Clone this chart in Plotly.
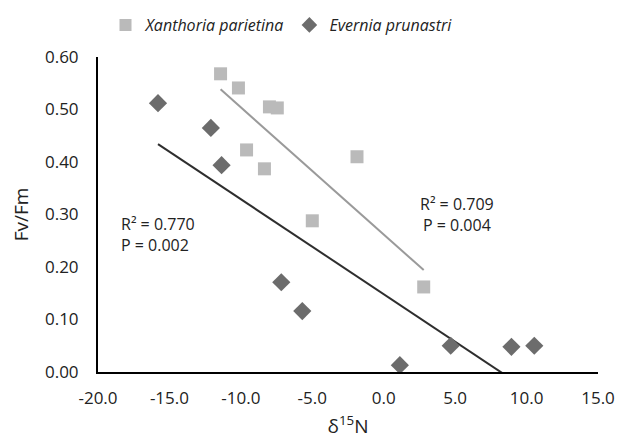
import numpy as np
import plotly.graph_objects as go

# Data
xan_x = [-11.42, -10.17, -8.0, -7.45, -9.6, -8.35, -1.87, -5.0, 2.8]
xan_y = [0.568, 0.541, 0.505, 0.503, 0.423, 0.387, 0.410, 0.288, 0.162]
eve_x = [-15.8, -12.1, -11.35, -7.17, -5.7, 1.13, 4.69, 8.94, 10.54]
eve_y = [0.512, 0.465, 0.394, 0.171, 0.116, 0.013, 0.050, 0.048, 0.050]

x_tickvals = [-20, -15, -10, -5, 0, 5, 10, 15]
x_ticktext = ["-20.0", "-15.0", "-10.0", "-5.0", "0.0", "5.0", "10.0", "15.0"]
y_tickvals = [0.0, 0.1, 0.2, 0.3, 0.4, 0.5, 0.6]
y_ticktext = ["0.00", "0.10", "0.20", "0.30", "0.40", "0.50", "0.60"]

FONT = "Open Sans"

def fit_line(xs, ys):
    m, b = np.polyfit(xs, ys, 1)
    xx = np.array([min(xs), max(xs)])
    return xx, m * xx + b

fig = go.Figure()

# trendlines
lx, ly = fit_line(xan_x, xan_y)
fig.add_trace(go.Scatter(x=lx, y=ly, mode="lines", line=dict(color="#9a9a9a", width=2),
                         showlegend=False, hoverinfo="skip"))
lx2, ly2 = fit_line(eve_x, eve_y)
fig.add_trace(go.Scatter(x=lx2, y=ly2, mode="lines", line=dict(color="#2e2e2e", width=2),
                         showlegend=False, hoverinfo="skip"))

fig.add_trace(go.Scatter(x=xan_x, y=xan_y, mode="markers", name="<i>Xanthoria parietina</i>",
                         marker=dict(symbol="square", size=13, color="#bababa")))
fig.add_trace(go.Scatter(x=eve_x, y=eve_y, mode="markers", name="<i>Evernia prunastri</i>",
                         marker=dict(symbol="diamond", size=14, color="#6c6c6c")))

fig.add_annotation(x=-18.5, y=0.262, xref="x", yref="y", text="R² = 0.770<br>P = 0.002",
                   showarrow=False, align="left", xanchor="left",
                   font=dict(family=FONT, size=16, color="#222"))
fig.add_annotation(x=5.1, y=0.30, xref="x", yref="y", text="R² = 0.709<br>P = 0.004",
                   showarrow=False, align="center", xanchor="center",
                   font=dict(family=FONT, size=16, color="#222"))

fig.update_layout(
    width=622, height=431,
    paper_bgcolor="white", plot_bgcolor="white",
    margin=dict(l=90, r=32, t=49, b=67, autoexpand=False),
    font=dict(family=FONT, size=16, color="#222"),
    legend=dict(orientation="h", x=0.367, xanchor="center",
                yref="container", y=1.0, yanchor="top",
                font=dict(family=FONT, size=16), itemsizing="constant", itemwidth=30,
                tracegroupgap=10),
    xaxis=dict(range=[-20, 15], tickvals=x_tickvals, ticktext=x_ticktext,
               showgrid=False, zeroline=False, showline=True, linecolor="#000", linewidth=2,
               ticks="", tickfont=dict(size=17), ticklabelstandoff=10,
               title=dict(text="δ<sup>15</sup>N", font=dict(size=19), standoff=16)),
    yaxis=dict(range=[0, 0.6], tickvals=y_tickvals, ticktext=y_ticktext,
               showgrid=False, zeroline=False, showline=True, linecolor="#000", linewidth=2,
               ticks="", tickfont=dict(size=17), ticklabelstandoff=14,
               title=dict(text="Fv/Fm", font=dict(size=19), standoff=12)),
)

fig.write_html("out.html")
